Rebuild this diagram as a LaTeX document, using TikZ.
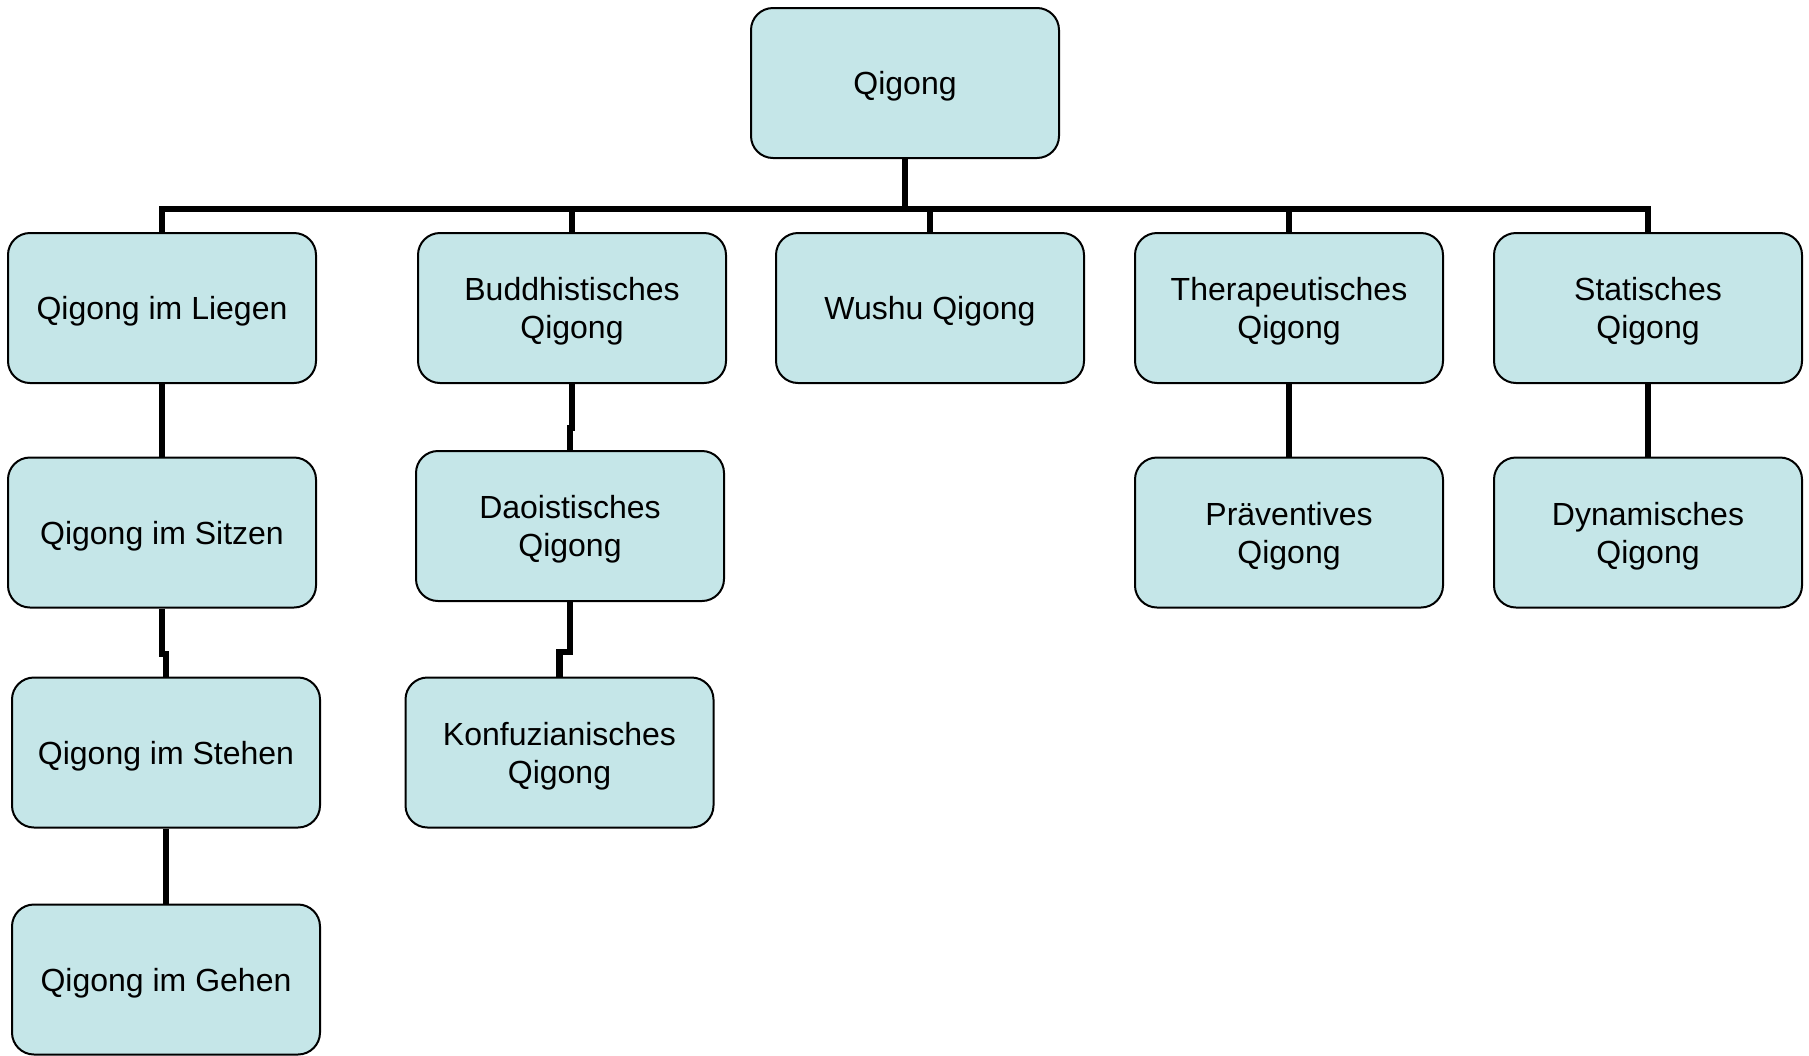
\documentclass[tikz,border=0pt]{standalone}
\usepackage{fontspec}
\setmainfont{Liberation Sans}
\usetikzlibrary{calc}
\definecolor{boxfill}{RGB}{197,230,232}
\begin{document}
\begin{tikzpicture}[x=0.5pt,y=-0.5pt,
  qbox/.style={draw=black, line width=1pt, fill=boxfill, rounded corners=11pt,
    minimum width=154pt, minimum height=75pt, inner sep=0pt,
    label={[qtext]center:{#1}}},
  qtext/.style={align=center, inner sep=0pt, yshift=-1.75pt,
    font=\fontsize{16}{19}\selectfont},
  conn/.style={draw=black, line width=3.2pt}]
\useasboundingbox (0,0) rectangle (1809,1055);
% nodes
\node[qbox={Qigong}] (top) at (905,83) {};
\node[qbox={Qigong im Liegen}] (lie) at (162,308) {};
\node[qbox={Buddhistisches\\Qigong}] (bud) at (572,308) {};
\node[qbox={Wushu Qigong}] (wus) at (930,308) {};
\node[qbox={Therapeutisches\\Qigong}] (the) at (1289,308) {};
\node[qbox={Statisches\\Qigong}] (sta) at (1648,308) {};
\node[qbox={Qigong im Sitzen}] (sit) at (162,532.5) {};
\node[qbox={Daoistisches\\Qigong}] (dao) at (570,526) {};
\node[qbox={Präventives\\Qigong}] (pra) at (1289,532.5) {};
\node[qbox={Dynamisches\\Qigong}] (dyn) at (1648,532.5) {};
\node[qbox={Qigong im Stehen}] (ste) at (166,752.5) {};
\node[qbox={Konfuzianisches\\Qigong}] (kon) at (559.5,752.5) {};
\node[qbox={Qigong im Gehen}] (geh) at (166,979.5) {};
\coordinate (bus) at (0,209);
% connectors
\draw[conn] (top.south) -- (top.south |- bus);
\draw[conn] (lie.north) |- (sta.north |- bus) -- (sta.north);
\draw[conn] (bud.north) -- (bud.north |- bus);
\draw[conn] (wus.north) -- (wus.north |- bus);
\draw[conn] (the.north) -- (the.north |- bus);
\draw[conn] (lie.south) |- ($(lie.south)!.67!(sit.north)$) -| (sit.north);
\draw[conn] (sit.south) |- ($(sit.south)!.67!(ste.north)$) -| (ste.north);
\draw[conn] (ste.south) -- (geh.north);
\draw[conn] (bud.south) |- ($(bud.south)!.67!(dao.north)$) -| (dao.north);
\draw[conn] (dao.south) |- ($(dao.south)!.67!(kon.north)$) -| (kon.north);
\draw[conn] (the.south) -- (pra.north);
\draw[conn] (sta.south) -- (dyn.north);
\end{tikzpicture}
\end{document}
